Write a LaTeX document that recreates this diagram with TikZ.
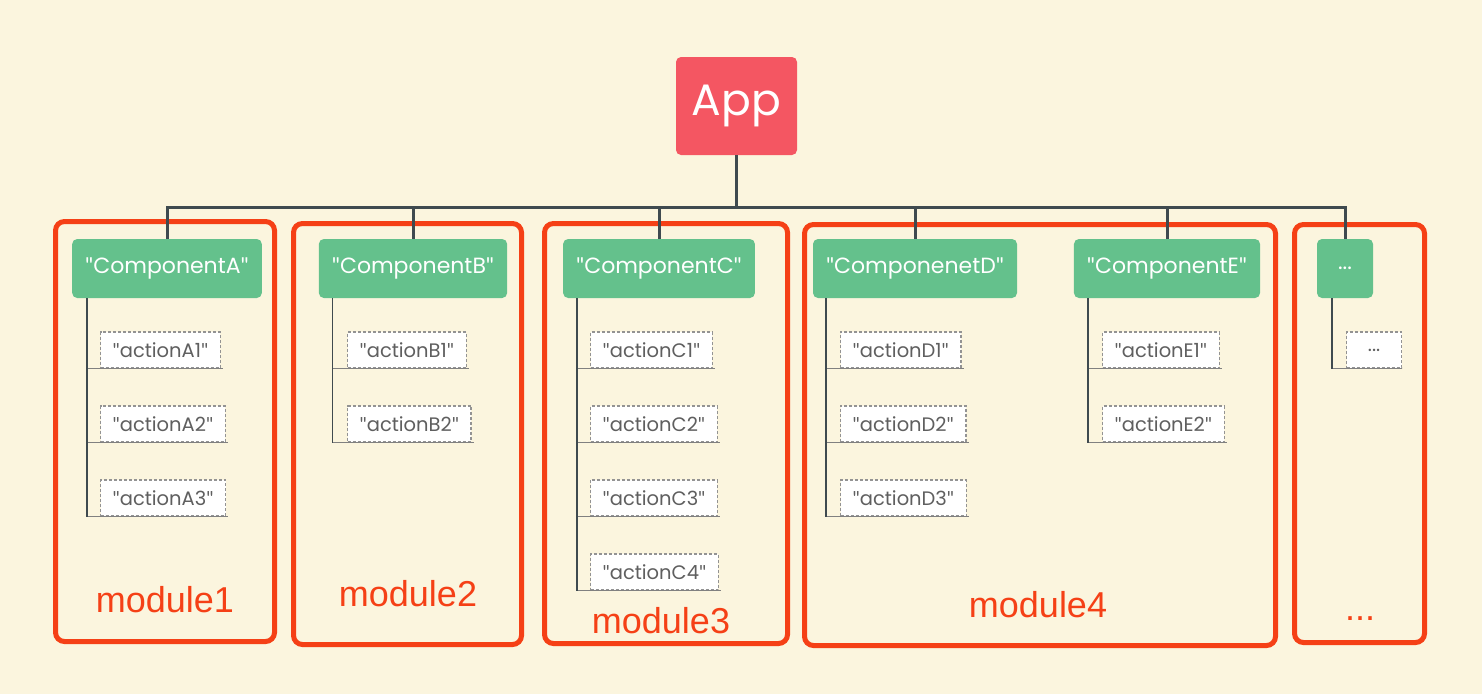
\documentclass[tikz,border=0pt]{standalone}
\usepackage{fontspec}
\setmainfont{Poppins}
\newfontfamily\labelfont{Liberation Sans}
\newfontfamily\quotefont{Lato}
\newcommand\qm{{\quotefont\symbol{34}}}
\usetikzlibrary{positioning}
\definecolor{bgcream}{RGB}{251,245,222}
\definecolor{modred}{RGB}{245,64,22}
\definecolor{apppink}{RGB}{244,86,98}
\definecolor{compgreen}{RGB}{100,193,140}
\definecolor{linegray}{RGB}{63,74,79}
\definecolor{actgray}{RGB}{95,95,95}
\tikzset{
	appbox/.style={fill=apppink, rounded corners=5pt, text=white, minimum width=121pt, minimum height=98pt, font=\fontsize{44}{44}\selectfont},
	compbox/.style={fill=compgreen, rounded corners=5pt, text=white, minimum height=59pt, inner xsep=13pt, font=\fontsize{22}{22}\selectfont},
	actbox/.style={draw=gray!85, dash pattern=on 3pt off 2pt, line width=1.2pt, fill=white, minimum height=36pt, inner xsep=12pt, text=actgray, font=\fontsize{19.5}{19.5}\selectfont, anchor=west},
	modbox/.style={draw=modred, line width=5pt, rounded corners=9pt},
	modlabel/.style={text=modred, font=\labelfont\fontsize{36}{36}\selectfont, anchor=base},
	bus/.style={draw=linegray, line width=3pt},
	trunk/.style={draw=linegray, line width=1.5pt},
	branch/.style={draw=gray, line width=1.5pt}
}

\begin{document}
\begin{tikzpicture}[x=1pt, y=-1pt]
	%%%%% START %%%%%
	
	\fill[bgcream] (0,0) rectangle (1482,694);
	\useasboundingbox (0,0) rectangle (1482,694);
	
	% modules
	\draw[modbox] (55.5,221.5) rectangle (274.5,641.5);
	\draw[modbox] (293.5,223.5) rectangle (521.5,644.5);
	\draw[modbox] (544.5,223.5) rectangle (787.5,643.5);
	\draw[modbox] (804.5,224.5) rectangle (1275.5,645.5);
	\draw[modbox] (1294.5,224.5) rectangle (1424.5,642.5);
	
	\node[modlabel] (m1) at (165,612) {module1};
	\node[modlabel] (m2) at (408,606) {module2};
	\node[modlabel] (m3) at (661,633) {module3};
	\node[modlabel] (m4) at (1038,617) {module4};
	\node[modlabel] (m5) at (1360,620) {...};
	
	% app and components
	\node[appbox] (app) at (736.5,106) {App};
	\coordinate (bus) at (737,207);
	
	\node[compbox] (cA) at (167,268.5) {\qm ComponentA\qm};
	\node[compbox] (cB) at (413,268.5) {\qm ComponentB\qm};
	\node[compbox] (cC) at (659,268.5) {\qm ComponentC\qm};
	\node[compbox] (cD) at (915,268.5) {\qm ComponenetD\qm};
	\node[compbox] (cE) at (1167,268.5) {\qm ComponentE\qm};
	\node[compbox, minimum width=56pt] (cF) at (1345,268.5) {...};
	
	\draw[bus] (app.south) -- (app.south |- bus);
	\foreach \c in {cA,cB,cC,cD,cE,cF}
		\draw[bus] (app.south |- bus) -| (\c.north);
	
	% actions
	\coordinate (tA) at ([xshift=15pt]cA.south west);
	\foreach \i in {1,2,3} {
		\node[actbox] (aA\i) at (100,276+74*\i) {\qm actionA\i\qm};
		\draw[branch] (tA |- aA\i.south) -- ([xshift=2pt]aA\i.south east);
	}
	\draw[trunk] (tA) -- (tA |- aA3.south);
	
	\coordinate (tB) at ([xshift=14pt]cB.south west);
	\foreach \i in {1,2} {
		\node[actbox] (aB\i) at (347,276+74*\i) {\qm actionB\i\qm};
		\draw[branch] (tB |- aB\i.south) -- ([xshift=2pt]aB\i.south east);
	}
	\draw[trunk] (tB) -- (tB |- aB2.south);
	
	\coordinate (tC) at ([xshift=14pt]cC.south west);
	\foreach \i in {1,2,3,4} {
		\node[actbox] (aC\i) at (590,276+74*\i) {\qm actionC\i\qm};
		\draw[branch] (tC |- aC\i.south) -- ([xshift=2pt]aC\i.south east);
	}
	\draw[trunk] (tC) -- (tC |- aC4.south);
	
	\coordinate (tD) at ([xshift=13pt]cD.south west);
	\foreach \i in {1,2,3} {
		\node[actbox] (aD\i) at (840,276+74*\i) {\qm actionD\i\qm};
		\draw[branch] (tD |- aD\i.south) -- ([xshift=2pt]aD\i.south east);
	}
	\draw[trunk] (tD) -- (tD |- aD3.south);
	
	\coordinate (tE) at ([xshift=14pt]cE.south west);
	\foreach \i in {1,2} {
		\node[actbox] (aE\i) at (1102,276+74*\i) {\qm actionE\i\qm};
		\draw[branch] (tE |- aE\i.south) -- ([xshift=2pt]aE\i.south east);
	}
	\draw[trunk] (tE) -- (tE |- aE2.south);
	
	\coordinate (tF) at ([xshift=15pt]cF.south west);
	\node[actbox, minimum width=55pt] (aF1) at (1346,350) {...};
	\draw[branch] (tF |- aF1.south) -- (aF1.south east);
	\draw[trunk] (tF) -- (tF |- aF1.south);
	
	%%%%% END %%%%%
\end{tikzpicture}
\end{document}
